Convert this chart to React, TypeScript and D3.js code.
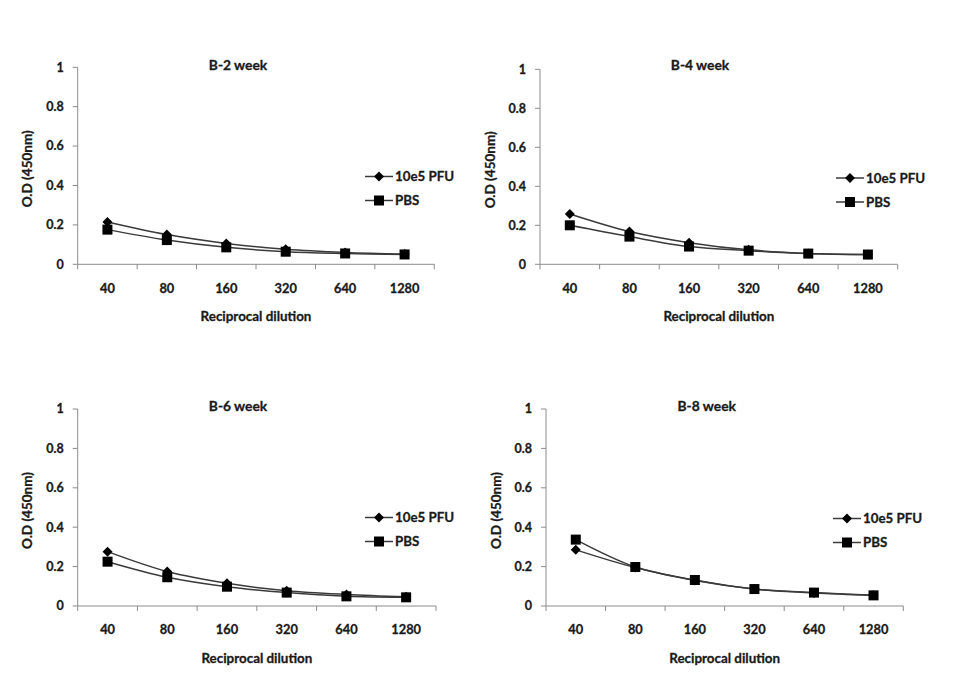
import React from "react";
import * as d3 from "d3";

const dilutions = ["40", "80", "160", "320", "640", "1280"];
const panelTitles = ["B-2 week", "B-4 week", "B-6 week", "B-8 week"];
const seriesNames = ["10e5 PFU", "PBS"];
const yTicks = [0, 0.2, 0.4, 0.6, 0.8, 1];

const pfu2 = [0.215, 0.151, 0.106, 0.076, 0.06, 0.052];
const pbs2 = [0.176, 0.123, 0.086, 0.064, 0.055, 0.05];
const pfu4 = [0.258, 0.168, 0.111, 0.074, 0.056, 0.05];
const pbs4 = [0.2, 0.142, 0.091, 0.07, 0.055, 0.05];
const pfu6 = [0.276, 0.175, 0.115, 0.078, 0.059, 0.047];
const pbs6 = [0.225, 0.146, 0.098, 0.068, 0.049, 0.044];
const pfu8 = [0.285, 0.195, 0.129, 0.086, 0.066, 0.054];
const pbs8 = [0.337, 0.198, 0.132, 0.086, 0.068, 0.054];

const panelData = [
  [pfu2, pbs2],
  [pfu4, pbs4],
  [pfu6, pbs6],
  [pfu8, pbs8],
];

// layout (pixel geometry) per panel
const layouts = [
  { x0: 77.7, x1: 434.3, yTop: 67.3, yZero: 264.3, titleX: 238, titleY: 65, legX: 365, legY: 176.5 },
  { x0: 540, x1: 897.7, yTop: 69.3, yZero: 264.3, titleX: 700, titleY: 65, legX: 836, legY: 178 },
  { x0: 77.7, x1: 436, yTop: 409, yZero: 606, titleX: 238, titleY: 405.7, legX: 365, legY: 517.5 },
  { x0: 546, x1: 903.3, yTop: 409, yZero: 606, titleX: 706.7, titleY: 405.7, legX: 833, legY: 518.5 },
];

const FONT = "Lato, 'Open Sans', sans-serif";
const LINE = "#3a3a3a";
const AXIS = "#8c8c8c";
const TXT = "#1a1a1a";
const txtStyle = { stroke: TXT, strokeWidth: 0.3 } as const;

function Marker({ kind, x, y }: { kind: number; x: number; y: number }) {
  if (kind === 0) {
    const s = 5;
    return (
      <path
        d={`M${x},${y - s}L${x + s},${y}L${x},${y + s}L${x - s},${y}Z`}
        fill="#000"
      />
    );
  }
  const h = 5;
  return <rect x={x - h} y={y - h} width={2 * h} height={2 * h} fill="#000" />;
}

function Panel({ idx }: { idx: number }) {
  const L = layouts[idx];
  const data = panelData[idx];
  const x = d3.scaleBand<string>().domain(dilutions).range([L.x0, L.x1]);
  const y = d3.scaleLinear().domain([0, 1]).range([L.yZero, L.yTop]);
  const cx = (d: string) => (x(d) as number) + x.bandwidth() / 2;
  const line = d3
    .line<number>()
    .x((_, i) => cx(dilutions[i]))
    .y((v) => y(v))
    .curve(d3.curveCatmullRom.alpha(0.5));
  const boundaries = dilutions.map((d) => x(d) as number).concat([L.x1]);
  const midY = (L.yTop + L.yZero) / 2;
  return (
    <g>
      <text
        x={L.titleX}
        y={L.titleY}
        dy="0.35em"
        textAnchor="middle"
        fontFamily={FONT}
        fontWeight="bold"
        fontSize={13.8}
        fill={TXT}
        style={txtStyle}
      >
        {panelTitles[idx]}
      </text>
      {/* y axis */}
      <line x1={L.x0} x2={L.x0} y1={L.yTop} y2={L.yZero} stroke={AXIS} strokeWidth={1} />
      {yTicks.map((t) => (
        <g key={t}>
          <line x1={L.x0 - 5} x2={L.x0} y1={y(t)} y2={y(t)} stroke={AXIS} />
          <text
            x={L.x0 - 14}
            y={y(t)}
            dy="0.35em"
            textAnchor="end"
            fontFamily={FONT}
            fontWeight="bold"
            fontSize={12.5}
            fill={TXT}
            style={txtStyle}
          >
            {d3.format("~g")(t)}
          </text>
        </g>
      ))}
      <text
        transform={`translate(${L.x0 - 50},${midY + 3}) rotate(-90)`}
        textAnchor="middle"
        dy="0.35em"
        fontFamily={FONT}
        fontWeight="bold"
        fontSize={13.5}
        fill={TXT}
        style={txtStyle}
      >
        O.D (450nm)
      </text>
      {/* x axis */}
      <line x1={L.x0} x2={L.x1} y1={L.yZero} y2={L.yZero} stroke={AXIS} />
      {boundaries.map((b, i) => (
        <line key={i} x1={b} x2={b} y1={L.yZero} y2={L.yZero + 5} stroke={AXIS} />
      ))}
      {dilutions.map((d) => (
        <text
          key={d}
          x={cx(d)}
          y={L.yZero + 24}
          dy="0.35em"
          textAnchor="middle"
          fontFamily={FONT}
          fontWeight="bold"
          fontSize={12.8}
          fill={TXT}
          style={txtStyle}
        >
          {d}
        </text>
      ))}
      <text
        x={(L.x0 + L.x1) / 2}
        y={L.yZero + 52}
        dy="0.35em"
        textAnchor="middle"
        fontFamily={FONT}
        fontWeight="bold"
        fontSize={13.4}
        fill={TXT}
        style={txtStyle}
      >
        Reciprocal dilution
      </text>
      {/* series */}
      {data.map((vals, s) => (
        <path key={s} d={line(vals) || ""} fill="none" stroke={LINE} strokeWidth={1.5} />
      ))}
      {data.map((vals, s) => (
        <g key={"m" + s}>
          {vals.map((v, i) => (
            <Marker key={i} kind={s} x={cx(dilutions[i])} y={y(v)} />
          ))}
        </g>
      ))}
      {/* legend */}
      {seriesNames.map((n, s) => {
        const ly = L.legY + s * 24;
        return (
          <g key={n}>
            <line x1={L.legX} x2={L.legX + 28} y1={ly} y2={ly} stroke={LINE} strokeWidth={1.5} />
            <Marker kind={s} x={L.legX + 14} y={ly} />
            <text
              x={L.legX + 30}
              y={ly}
              dy="0.35em"
              fontFamily={FONT}
              fontWeight="bold"
              fontSize={13.3}
              fill={TXT}
              style={txtStyle}
            >
              {n}
            </text>
          </g>
        );
      })}
    </g>
  );
}

export default function App() {
  return (
    <svg
      width={959}
      height={697}
      style={{ position: "absolute", left: 0, top: 0, background: "#fff" }}
    >
      <rect width={959} height={697} fill="#fff" />
      {panelTitles.map((_, i) => (
        <Panel key={i} idx={i} />
      ))}
    </svg>
  );
}
